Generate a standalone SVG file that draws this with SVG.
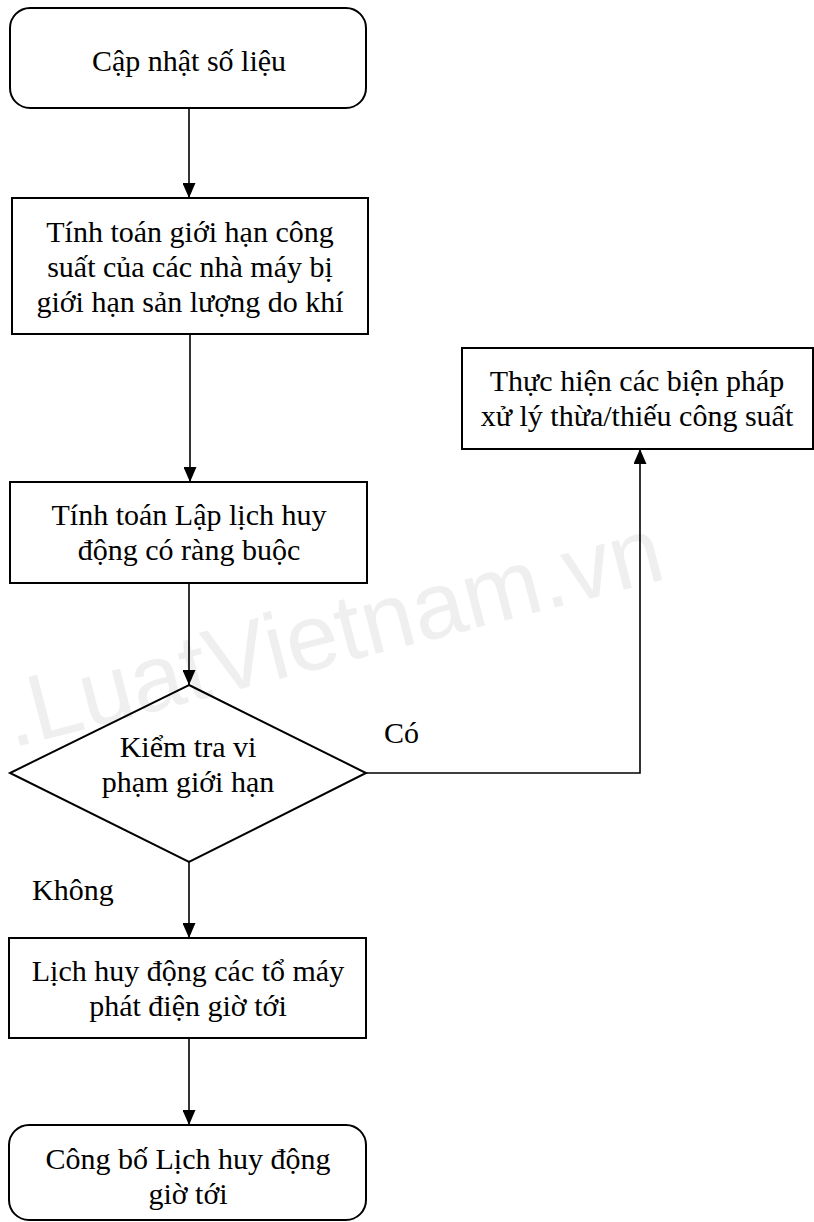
<svg xmlns="http://www.w3.org/2000/svg" width="814" height="1222" viewBox="0 0 814 1222">
<style>
.box{fill:#fff;stroke:#000;stroke-width:2}
.dia{fill:none;stroke:#000;stroke-width:2}
.t{font-family:"Liberation Serif","Times New Roman",serif;font-size:30px;fill:#000;text-anchor:middle}
.lbl{font-family:"Liberation Serif","Times New Roman",serif;font-size:30px;fill:#000}
.edge{fill:none;stroke:#000;stroke-width:1.6}
.wm{font-family:"Liberation Sans",Arial,sans-serif;font-size:94px;fill:#efefef}
</style>
<defs>
<marker id="arr" markerWidth="15" markerHeight="13" refX="15" refY="6.5" orient="auto" markerUnits="userSpaceOnUse">
<path d="M0,0 L15,6.5 L0,13 Z" fill="#000"/>
</marker>
</defs>
<rect width="814" height="1222" fill="#fff"/>
<text class="wm" x="12" y="748" transform="rotate(-14.5 12 748)">.LuatVietnam.vn</text>
<g id="connectors">
<path class="edge" d="M189,108 L189,198" marker-end="url(#arr)"/>
<path class="edge" d="M190,334 L190,482" marker-end="url(#arr)"/>
<path class="edge" d="M189,583 L189,685" marker-end="url(#arr)"/>
<path class="edge" d="M366,773 L640,773 L640,449" marker-end="url(#arr)"/>
<path class="edge" d="M189,862 L189,938" marker-end="url(#arr)"/>
<path class="edge" d="M189,1038 L189,1125" marker-end="url(#arr)"/>
<text class="lbl" x="384" y="743">Có</text>
<text class="lbl" x="32" y="900">Không</text>
</g>
<g id="n1">
<rect class="box" x="10" y="8" width="356" height="100" rx="20" ry="20"/>
<text class="t" x="189" y="71">Cập nhật số liệu</text>
</g>
<g id="n2">
<rect class="box" x="12" y="198" width="356" height="136"/>
<text class="t" x="190" y="242">Tính toán giới hạn công</text>
<text class="t" x="190" y="277">suất của các nhà máy bị</text>
<text class="t" x="190" y="312">giới hạn sản lượng do khí</text>
</g>
<g id="n3">
<rect class="box" x="10" y="482" width="357" height="101"/>
<text class="t" x="189" y="525">Tính toán Lập lịch huy</text>
<text class="t" x="189" y="560">động có ràng buộc</text>
</g>
<g id="n4">
<polygon class="dia" points="189,685 366,773 189,862 10,773"/>
<text class="t" x="188" y="757">Kiểm tra vi</text>
<text class="t" x="188" y="792">phạm giới hạn</text>
</g>
<g id="n5">
<rect class="box" x="462" y="348" width="351" height="101"/>
<text class="t" x="637" y="391">Thực hiện các biện pháp</text>
<text class="t" x="637" y="426">xử lý thừa/thiếu công suất</text>
</g>
<g id="n6">
<rect class="box" x="9" y="938" width="357" height="100"/>
<text class="t" x="188" y="981">Lịch huy động các tổ máy</text>
<text class="t" x="188" y="1016">phát điện giờ tới</text>
</g>
<g id="n7">
<rect class="box" x="9" y="1125" width="357" height="95" rx="20" ry="20"/>
<text class="t" x="188" y="1169">Công bố Lịch huy động</text>
<text class="t" x="188" y="1204">giờ tới</text>
</g>
</svg>
